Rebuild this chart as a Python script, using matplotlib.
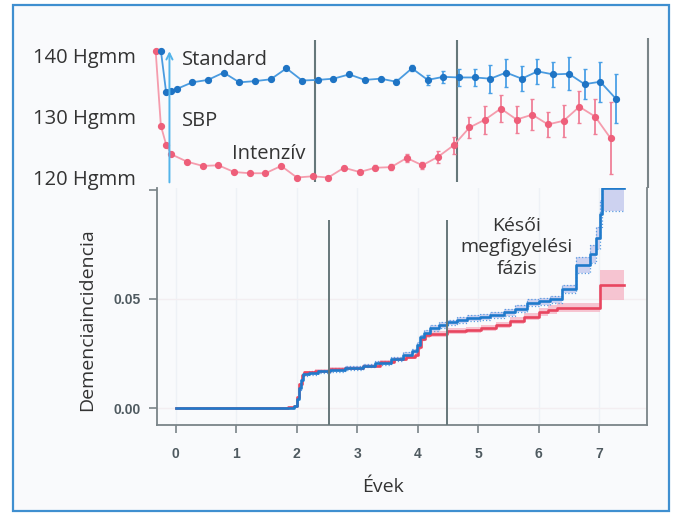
import matplotlib
matplotlib.use("Agg")
import matplotlib.pyplot as plt
from matplotlib.patches import Rectangle

# ---------------- data ----------------
# upper panel: systolic blood pressure by visit month
months = [0, 1, 2, 3, 6, 9, 12, 15, 18, 21, 24, 27, 30, 33, 36, 39, 42, 45,
          48, 51, 54, 57, 60, 63, 66, 69, 72, 75, 78, 81, 84, 87]
standard_sbp = [140.8, 134.0, 134.1, 134.5, 135.6, 136.0, 137.2, 135.6, 135.8,
                136.1, 137.9, 135.9, 136.0, 136.2, 136.9, 136.0, 136.2, 135.7,
                137.9, 136.0, 136.5, 136.4, 136.4, 136.2, 137.2, 136.2, 137.4,
                136.9, 137.0, 135.3, 135.7, 132.9]
standard_err = [0.1, 0.1, 0.1, 0.1, 0.1, 0.1, 0.1, 0.1, 0.15, 0.15, 0.15, 0.2,
                0.3, 0.3, 0.3, 0.35, 0.35, 0.4, 0.5, 0.8, 1.0, 1.35, 1.45, 2.3,
                2.3, 2.1, 2.1, 2.0, 2.7, 2.5, 3.3, 4.0]
intensive_sbp = [140.8, 128.5, 125.4, 123.8, 122.6, 121.9, 122.0, 120.9, 120.7,
                 120.7, 121.9, 120.0, 120.2, 120.0, 121.6, 120.9, 121.6, 121.7,
                 123.2, 122.0, 123.4, 125.3, 128.2, 129.5, 131.3, 129.5, 130.3,
                 128.7, 129.3, 131.6, 130.0, 126.4]
intensive_err = [0.1, 0.1, 0.1, 0.1, 0.1, 0.1, 0.1, 0.1, 0.15, 0.15, 0.15, 0.2,
                 0.25, 0.3, 0.3, 0.35, 0.4, 0.45, 0.7, 0.6, 1.0, 1.4, 1.7, 2.3,
                 2.2, 2.2, 2.5, 2.0, 2.6, 2.6, 2.9, 5.9]
sbp_ticks = [120, 130, 140]
sbp_labels = ["120 Hgmm", "130 Hgmm", "140 Hgmm"]
sbp_phase_lines = [30.5, 57.6]

# lower panel: cumulative dementia incidence (step curves)
blue_t = [0, 1.90, 1.95, 2.00, 2.03, 2.07, 2.11, 2.20, 2.35, 2.55, 2.80, 3.10,
          3.30, 3.55, 3.75, 3.90, 3.98, 4.04, 4.10, 4.21, 4.35, 4.48, 4.65,
          4.81, 5.03, 5.20, 5.42, 5.60, 5.80, 6.00, 6.19, 6.38, 6.62, 6.84,
          6.94, 7.02, 7.05, 7.41]
blue_v = [0, 0.0003, 0.0008, 0.004, 0.009, 0.013, 0.0155, 0.016, 0.0168,
          0.0175, 0.0183, 0.0195, 0.0207, 0.0226, 0.0245, 0.0262, 0.029,
          0.0324, 0.0345, 0.0367, 0.038, 0.0392, 0.0403, 0.0412, 0.0418,
          0.0425, 0.0438, 0.0455, 0.0483, 0.049, 0.0498, 0.0545, 0.0655,
          0.0705, 0.078, 0.089, 0.1005, 0.1005]
blue_ci = [0, 0, 0, 0.0004, 0.0006, 0.0007, 0.0008, 0.0008, 0.0008, 0.0008,
           0.0008, 0.0009, 0.0009, 0.001, 0.001, 0.001, 0.0011, 0.0012, 0.0012,
           0.0012, 0.0013, 0.0013, 0.0013, 0.0014, 0.0014, 0.0014, 0.0015,
           0.0015, 0.0016, 0.0016, 0.0017, 0.002, 0.0035, 0.004, 0.005, 0.006,
           0.0102, 0.0102]
red_t = [0, 1.85, 1.95, 2.00, 2.04, 2.08, 2.12, 2.30, 2.55, 2.80, 3.10, 3.38,
         3.60, 3.80, 3.95, 4.00, 4.05, 4.12, 4.21, 4.48, 4.80, 5.04, 5.30, 5.53,
         5.75, 6.00, 6.15, 6.30, 7.02, 7.41]
red_v = [0, 0.0004, 0.001, 0.005, 0.011, 0.015, 0.0164, 0.017, 0.0178, 0.0185,
         0.0195, 0.0212, 0.0225, 0.0235, 0.0245, 0.028, 0.0318, 0.0333, 0.034,
         0.0352, 0.0358, 0.0365, 0.038, 0.040, 0.0418, 0.0438, 0.045, 0.046,
         0.0564, 0.0564]
red_ci = [0, 0, 0.0003, 0.0005, 0.0007, 0.0008, 0.0008, 0.0008, 0.0008, 0.0009,
          0.0009, 0.001, 0.001, 0.001, 0.0011, 0.0012, 0.0012, 0.0012, 0.0013,
          0.0013, 0.0014, 0.0014, 0.0015, 0.0016, 0.0017, 0.0018, 0.002, 0.0022,
          0.007, 0.007]
year_ticks = [0, 1, 2, 3, 4, 5, 6, 7]
inc_ticks = [0.0, 0.05, 0.10]
inc_labels = ["0.00", "0.05", ""]
phase_lines = [2.54, 4.49]

# ---------------- style ----------------
W, H = 675, 519
FONT = ["Open Sans", "DejaVu Sans"]
BLUE = "#1f7acb"
RED = "#e8455f"
LINEC = "#66777a"
AXC = "#7a8488"

fig = plt.figure(figsize=(W / 100, H / 100), dpi=100)
fig.patch.set_facecolor("white")
frame = Rectangle((13 / W, 1 - 511 / H), (669 - 13) / W, (511 - 5) / H,
                  transform=fig.transFigure, facecolor="#f9fafc",
                  edgecolor="#3f8fd0", lw=1.6, zorder=-10)
fig.add_artist(frame)


def frac(x0, y0, x1, y1):
    return [x0 / W, 1 - y1 / H, (x1 - x0) / W, (y1 - y0) / H]


# ---------------- lower panel ----------------
ax = fig.add_axes(frac(157, 188, 647, 425))
ax.set_facecolor("none")
ax.set_xlim(-0.31, 7.79)
ax.set_ylim(-0.0077, 0.1007)
for x in year_ticks:
    ax.axvline(x, color="#eef1f6", lw=1, zorder=0)
for y in [0.0, 0.05]:
    ax.axhline(y, color="#f3eef1", lw=1, zorder=0)

blue_lo = [v - c for v, c in zip(blue_v, blue_ci)]
blue_hi = [v + c for v, c in zip(blue_v, blue_ci)]
red_lo = [v - c for v, c in zip(red_v, red_ci)]
red_hi = [v + c for v, c in zip(red_v, red_ci)]

ax.fill_between(red_t, red_lo, red_hi, step="post", color="#f6b3c3",
                alpha=0.75, lw=0, zorder=2)
ax.fill_between(blue_t, blue_lo, blue_hi, step="post", color="#c3c8ee",
                alpha=0.8, lw=0, zorder=3)
ax.step(blue_t, blue_lo, where="post", color="#5b9de2", lw=0.9, ls=":", zorder=3)
ax.step(blue_t, blue_hi, where="post", color="#5b9de2", lw=0.9, ls=":", zorder=3)
ax.step(red_t, red_v, where="post", color=RED, lw=1.9, zorder=4)
ax.step(blue_t, blue_v, where="post", color=BLUE, lw=1.9, zorder=5)

for x in phase_lines:
    ax.vlines(x, -0.0077, 0.0859, color=LINEC, lw=1.4, zorder=6)

ax.spines["top"].set_visible(False)
for s in ["left", "bottom", "right"]:
    ax.spines[s].set_color(AXC)
    ax.spines[s].set_linewidth(1.3)

ax.set_xticks(year_ticks)
ax.set_xticklabels([str(v) for v in year_ticks])
ax.set_yticks(inc_ticks)
ax.set_yticklabels(inc_labels)
ax.tick_params(axis="both", direction="out", length=6, width=1.2, color=AXC,
               labelcolor="#4f5a60")
ax.tick_params(axis="x", pad=10)
ax.tick_params(axis="y", pad=6)
for lab in ax.get_xticklabels() + ax.get_yticklabels():
    lab.set_fontfamily("Liberation Sans")
    lab.set_fontweight("bold")
    lab.set_fontsize(10)

ax.set_xlabel("Évek", fontsize=14, family=FONT, color="#333333")
ax.xaxis.set_label_coords((383 - 157) / 490, -(478 - 425) / 237)
ax.xaxis.label.set_va("top")
ax.set_ylabel("Demenciaincidencia", fontsize=14, family=FONT, color="#333333")
ax.yaxis.set_label_coords(-(157 - 96) / 490, (425 - 320) / 237)

ax.text(5.64, 0.0736, "Késői\nmegfigyelési\nfázis", ha="center", va="center",
        fontsize=14, family=FONT, color="#333333", linespacing=1.25, zorder=7)

# ---------------- upper panel ----------------
up = fig.add_axes(frac(140, 30, 660, 188))
up.set_facecolor("none")
up.set_xlim(-2.99, 96.42)
up.set_ylim(118.28, 144.18)
for s in up.spines.values():
    s.set_visible(False)
up.set_xticks([])
up.set_yticks(sbp_ticks)
up.set_yticklabels(sbp_labels)
up.tick_params(axis="y", length=0, pad=3, labelsize=14.5, labelcolor="#333333")
for lab in up.get_yticklabels():
    lab.set_fontfamily(FONT)

dodge = 1.0
blue_x = [m + dodge for m in months]
up.errorbar(months, intensive_sbp, yerr=intensive_err, color="#f59cad",
            ecolor="#f08098", elinewidth=1.3, capsize=1.2, lw=1.3, marker="o",
            ms=4.2, mfc="#ee5f7a", mec="#ee5f7a", zorder=3)
up.errorbar(blue_x, standard_sbp, yerr=standard_err, color="#4a9be0",
            ecolor="#4aa0e6", elinewidth=1.3, capsize=1.2, lw=1.3, marker="o",
            ms=4.2, mfc="#1f74c4", mec="#1f74c4", zorder=4)

for x in sbp_phase_lines:
    up.vlines(x, 119.26, 142.54, color=LINEC, lw=1.5, zorder=2)
up.vlines(94.13, 118.28, 142.87, color=AXC, lw=1.5, zorder=2, clip_on=False)

up.annotate("", xy=(2.64, 140.7), xytext=(2.64, 119.2),
            arrowprops=dict(arrowstyle="->", color="#53b4ea", lw=1.4,
                            shrinkA=0, shrinkB=0, mutation_scale=11), zorder=5)
up.text(5.0, 138.5, "Standard", fontsize=14.5, family=FONT, color="#333333",
        va="baseline", ha="left")
up.text(5.0, 128.4, "SBP", fontsize=14.5, family=FONT, color="#333333",
        va="baseline", ha="left")
up.text(14.6, 123.1, "Intenzív", fontsize=14.5, family=FONT, color="#333333",
        va="baseline", ha="left")

fig.savefig("out.png", dpi=100)
